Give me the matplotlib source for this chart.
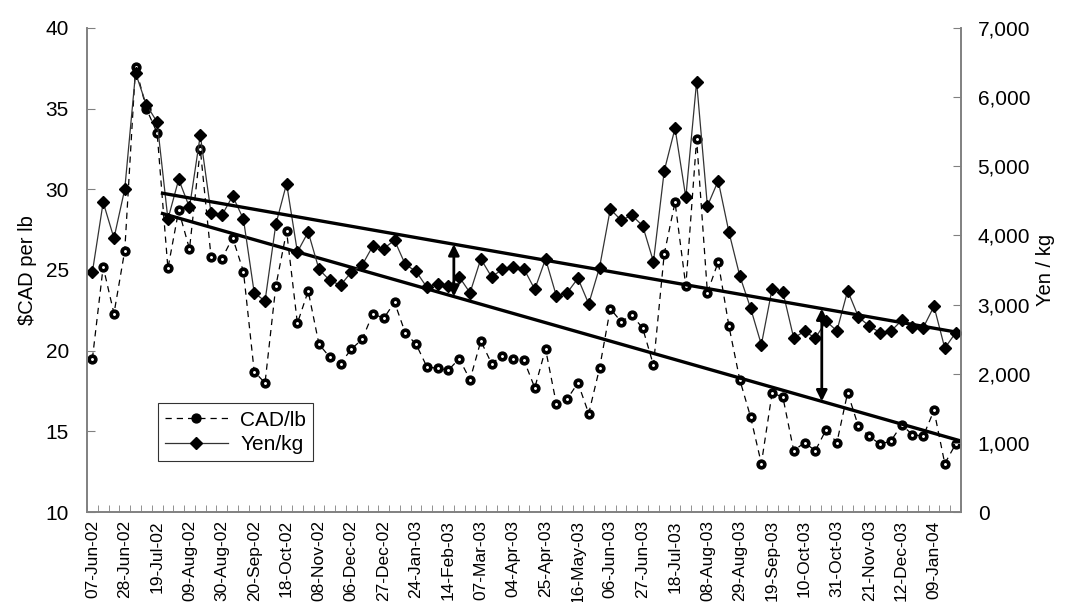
import numpy as np
import matplotlib
matplotlib.use("Agg")
import matplotlib.pyplot as plt

plt.rcParams['font.family'] = ['Liberation Sans', 'DejaVu Sans']

# weekly prices, 81 sale dates
tick_labels = ["07-Jun-02", "28-Jun-02", "19-Jul-02", "09-Aug-02", "30-Aug-02",
               "20-Sep-02", "18-Oct-02", "08-Nov-02", "06-Dec-02", "27-Dec-02",
               "24-Jan-03", "14-Feb-03", "07-Mar-03", "04-Apr-03", "25-Apr-03",
               "16-May-03", "06-Jun-03", "27-Jun-03", "18-Jul-03", "08-Aug-03",
               "29-Aug-03", "19-Sep-03", "10-Oct-03", "31-Oct-03", "21-Nov-03",
               "12-Dec-03", "09-Jan-04"]

cad_lb = [19.5, 25.2, 22.3, 26.2, 37.6, 35.0, 33.5, 25.1, 28.7, 26.3,
          32.5, 25.8, 25.7, 27.0, 24.9, 18.7, 18.0, 24.0, 27.4, 21.7,
          23.7, 20.4, 19.6, 19.2, 20.1, 20.7, 22.3, 22.0, 23.0, 21.1,
          20.4, 19.0, 18.9, 18.8, 19.5, 18.2, 20.6, 19.2, 19.7, 19.5,
          19.4, 17.7, 20.1, 16.7, 17.0, 18.0, 16.1, 18.9, 22.6, 21.8,
          22.2, 21.4, 19.1, 26.0, 29.2, 24.0, 33.1, 23.6, 25.5, 21.5,
          18.2, 15.9, 13.0, 17.4, 17.1, 13.8, 14.3, 13.8, 15.1, 14.3,
          17.4, 15.3, 14.7, 14.2, 14.4, 15.4, 14.8, 14.7, 16.3, 13.0,
          14.2]

yen_kg = [3470, 4480, 3960, 4670, 6350, 5890, 5640, 4235, 4810, 4405,
          5450, 4320, 4290, 4570, 4235, 3170, 3050, 4160, 4750, 3760,
          4050, 3510, 3350, 3280, 3470, 3570, 3850, 3810, 3930, 3580,
          3480, 3250, 3300, 3270, 3400, 3170, 3660, 3400, 3510, 3550,
          3515, 3220, 3660, 3125, 3170, 3380, 3010, 3535, 4380, 4220,
          4290, 4140, 3620, 4935, 5550, 4550, 6225, 4425, 4790, 4045,
          3415, 2950, 2420, 3230, 3180, 2515, 2615, 2515, 2760, 2620,
          3200, 2820, 2690, 2595, 2615, 2770, 2675, 2665, 2975, 2370,
          2590]

# hand-drawn trend lines and the gap arrows between them
trend_x = [6.5, 80.5]
trend_cad = [28.5, 14.4]
trend_yen = [4610, 2590]
arrow_x = [33.5, 67.6]

n = len(cad_lb)
x = np.arange(n)

fig = plt.figure(figsize=(10.70, 6.02), dpi=100)
ax = fig.add_axes([0.0813, 0.1495, 0.8168, 0.804])
ax2 = ax.twinx()

ax.set_xlim(-0.5, n - 0.5)
ax.set_ylim(10, 40)
ax2.set_ylim(0, 7000)

l1, = ax.plot(x, cad_lb, color='black', lw=0.9, ls=(0, (5, 4)),
              marker='o', ms=6.4, mfc='black', mec='black', label='CAD/lb')
ax.plot(x, cad_lb, ls='none', marker='o', ms=1.1, mfc='white', mec='white')
l2, = ax2.plot(x, yen_kg, color='#333333', lw=0.9,
               marker='D', ms=6.2, mfc='black', mec='black', label='Yen/kg')

ax.plot(trend_x, trend_cad, color='black', lw=2.4)
ax2.plot(trend_x, trend_yen, color='black', lw=2.4)

# arrows span the gap between the two trend lines
for ax_ in arrow_x:
    lo = np.interp(ax_, trend_x, trend_cad)
    hi = 10 + np.interp(ax_, trend_x, trend_yen) * 30 / 7000
    ax2.annotate('', xy=(ax_, (hi - 10) * 7000 / 30), xytext=(ax_, (lo - 10) * 7000 / 30),
                 arrowprops=dict(arrowstyle='<|-|>', color='black', lw=2,
                                 mutation_scale=16, shrinkA=0, shrinkB=0))

# axes styling, Excel look
for a in (ax, ax2):
    a.spines['top'].set_visible(False)
    for s in ('left', 'right', 'bottom'):
        a.spines[s].set_color('#808080')
        a.spines[s].set_linewidth(1.2)

ax.set_yticks([10, 15, 20, 25, 30, 35, 40])
ax2.set_yticks(range(0, 7001, 1000))
ax2.set_yticklabels([f"{v:,}" for v in range(0, 7001, 1000)])
ax.tick_params(axis='y', direction='in', length=6, color='#808080', labelsize=15, pad=13)
ax2.tick_params(axis='y', direction='in', length=6, color='#808080', labelsize=15, pad=12)

ax.set_xticks(x[::3])
ax.set_xticklabels(tick_labels, rotation=90, fontsize=12.5)
ax.set_xticks(np.arange(-0.5, n, 1.0), minor=True)
ax.tick_params(axis='x', which='major', length=0, pad=6)
ax.tick_params(axis='x', which='minor', direction='in', length=5, color='#808080')

ax.set_ylabel("$CAD per lb", fontsize=14.5, labelpad=6)
ax2.set_ylabel("Yen / kg", fontsize=14.5, labelpad=4)

leg = ax2.legend(handles=[l1, l2], loc='lower left', bbox_to_anchor=(0.081, 0.105),
                 borderaxespad=0, fontsize=15, frameon=True, fancybox=False,
                 handlelength=3, borderpad=0.35, labelspacing=0.25, handletextpad=0.6)
leg.get_frame().set_edgecolor('black')
leg.get_frame().set_linewidth(0.8)

fig.savefig("out.png", dpi=100)
